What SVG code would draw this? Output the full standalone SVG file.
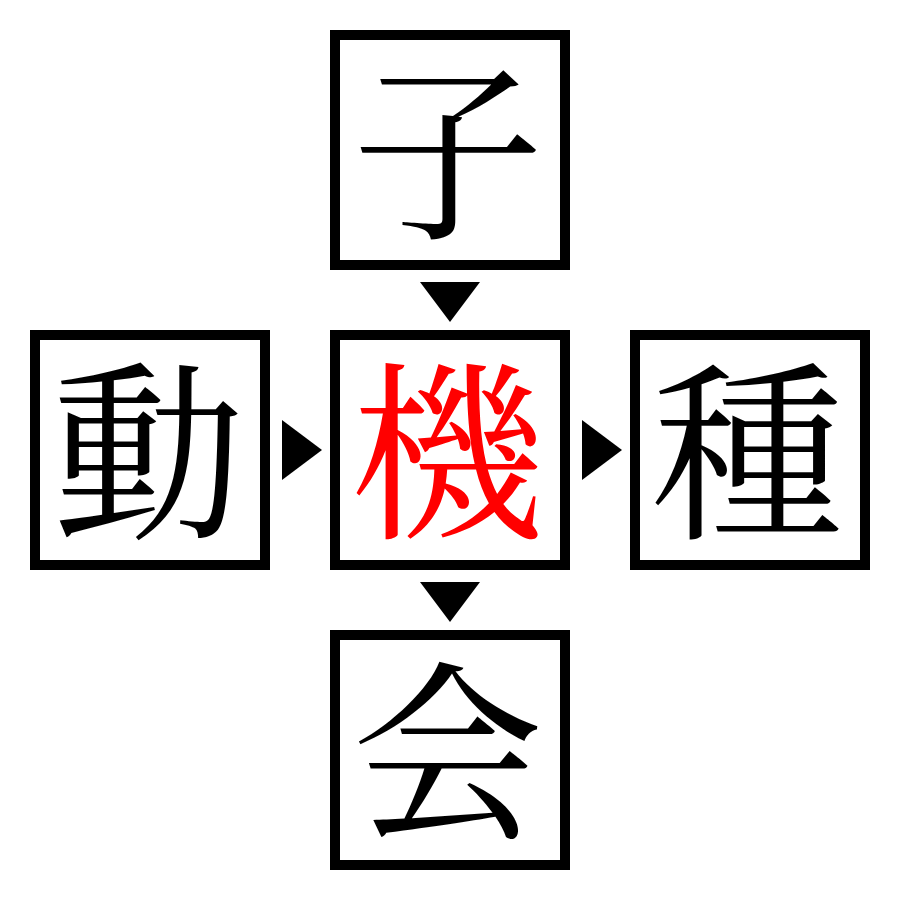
<svg xmlns="http://www.w3.org/2000/svg" width="900" height="900" viewBox="0 0 900 900">
<style>
.box{fill:#fff;stroke:#000;stroke-width:10}
.ch{font-family:"Noto Serif CJK JP","Noto Sans CJK JP",serif;font-size:192px;text-anchor:middle;dominant-baseline:central;fill:#000}
.red{fill:#ff0000}
.arr{fill:#000}
</style>
<rect width="900" height="900" fill="#fff"/>
<g id="connectors">
<polygon class="arr" points="420,282 480,282 450,322"/>
<polygon class="arr" points="282,420 282,480 322,450"/>
<polygon class="arr" points="582,420 582,480 622,450"/>
<polygon class="arr" points="420,582 480,582 450,622"/>
</g>
<g id="node-top"><rect class="box" x="335" y="35" width="230" height="230"/><text class="ch" x="448" y="141">子</text></g>
<g id="node-left"><rect class="box" x="35" y="335" width="230" height="230"/><text class="ch" x="148" y="441">動</text></g>
<g id="node-center"><rect class="box" x="335" y="335" width="230" height="230"/><text class="ch red" x="448" y="441">機</text></g>
<g id="node-right"><rect class="box" x="635" y="335" width="230" height="230"/><text class="ch" x="748" y="441">種</text></g>
<g id="node-bottom"><rect class="box" x="335" y="635" width="230" height="230"/><text class="ch" x="448" y="741">会</text></g>
</svg>
